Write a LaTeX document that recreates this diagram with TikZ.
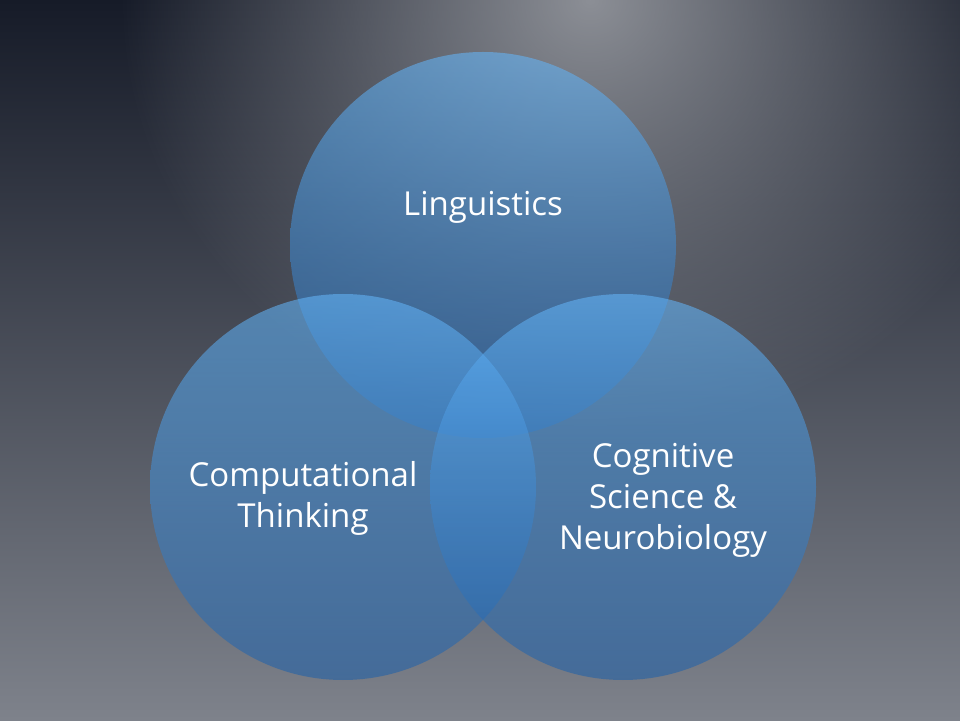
\documentclass[tikz,border=0pt]{standalone}
\usepackage{fontspec}
\setmainfont{Open Sans}
\usetikzlibrary{fadings}
\definecolor{bgtop}{RGB}{22,27,40}
\definecolor{bgbot}{RGB}{126,130,139}
\definecolor{glowc}{RGB}{140,143,150}
\definecolor{ctop}{RGB}{100,182,250}
\definecolor{cmid}{RGB}{20,128,235}
\definecolor{cbot}{RGB}{30,95,168}
\tikzfading[name=glow, inner color=transparent!0, outer color=transparent!100]
\tikzset{
  venn/.style={top color=ctop, middle color=cmid, bottom color=cbot, fill opacity=0.57, draw=none},
  vlabel/.style={text=white, align=center, font=\fontsize{33}{41}\selectfont}
}
\begin{document}
\begin{tikzpicture}[x=1pt,y=1pt]
\useasboundingbox (0,0) rectangle (960,720);
\shade[top color=bgtop, bottom color=bgbot] (0,0) rectangle (960,720);
\fill[glowc, path fading=glow] (590,720) ellipse [x radius=470, y radius=440];
\shade[venn] (483,475) circle (193);
\shade[venn] (343,233) circle (193);
\shade[venn] (623,233) circle (193);
\node[vlabel] (ling) at (483,513) {Linguistics};
\node[vlabel] (comp) at (303,222) {Computational\\Thinking};
\node[vlabel] (cogn) at (663,220) {Cognitive\\Science \&\\Neurobiology};
\end{tikzpicture}
\end{document}
